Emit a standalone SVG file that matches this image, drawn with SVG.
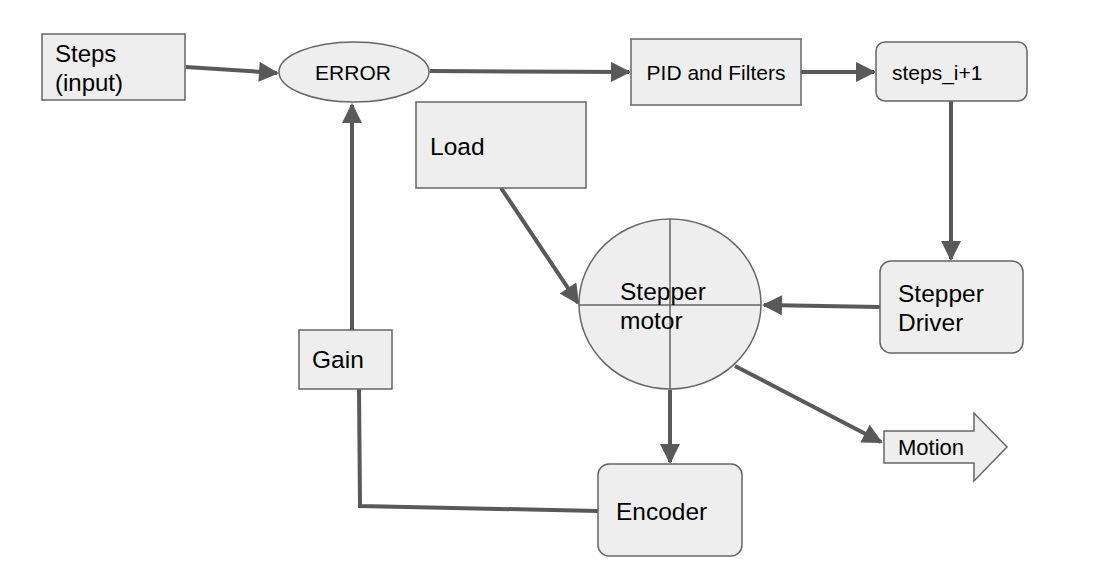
<svg xmlns="http://www.w3.org/2000/svg" width="1102" height="578" viewBox="0 0 1102 578">
<style>
.n{fill:#eeeeee;stroke:#666666;stroke-width:1.5}
.t{font-family:"Liberation Sans",Arial,sans-serif;fill:#000}
.c{fill:none;stroke:#595959;stroke-width:4}
.a{marker-end:url(#ah)}
.thin{stroke:#666666;stroke-width:1.5;fill:none}
</style>
<defs>
<marker id="ah" viewBox="0 0 10 10" refX="9" refY="5" markerWidth="6" markerHeight="5" orient="auto" markerUnits="strokeWidth">
<path d="M0,0 L10,5 L0,10 z" fill="#595959"/>
</marker>
</defs>
<rect width="1102" height="578" fill="#ffffff"/>
<g id="connectors">
<path class="c a" d="M186,67 L277,73"/>
<path class="c a" d="M430,71 L629,72"/>
<path class="c a" d="M801,72 L874,72"/>
<path class="c a" d="M951,101 L951,259"/>
<path class="c a" d="M880,307 L764,305"/>
<path class="c a" d="M501,188 L578,303"/>
<path class="c a" d="M352,330 L352,105"/>
<path class="c" d="M359,389 L360,506 L598,511"/>
<path class="c a" d="M670,390 L670,462"/>
<path class="c a" d="M735,366 L881,442"/>
</g>
<g id="steps">
<rect class="n" x="42" y="34" width="143" height="66"/>
<text class="t" x="55" y="62" font-size="24">Steps</text>
<text class="t" x="55" y="91" font-size="24">(input)</text>
</g>
<g id="error">
<ellipse class="n" cx="354" cy="72" rx="75" ry="30"/>
<text class="t" x="353" y="80" font-size="21" text-anchor="middle">ERROR</text>
</g>
<g id="pid">
<rect class="n" x="631" y="39" width="170" height="66"/>
<text class="t" x="716" y="80" font-size="21" text-anchor="middle">PID and Filters</text>
</g>
<g id="stepsi">
<rect class="n" x="876" y="42" width="151" height="59" rx="9"/>
<text class="t" x="892" y="80" font-size="21">steps_i+1</text>
</g>
<g id="driver">
<rect class="n" x="880" y="261" width="143" height="92" rx="11"/>
<text class="t" x="898" y="302" font-size="24.5">Stepper</text>
<text class="t" x="898" y="331" font-size="24.5">Driver</text>
</g>
<g id="load">
<rect class="n" x="416" y="102" width="170" height="86"/>
<text class="t" x="430" y="155" font-size="24.5">Load</text>
</g>
<g id="motor">
<ellipse class="n" cx="670" cy="304" rx="91" ry="85"/>
<path class="thin" d="M579,305 L761,305 M670,219 L670,389"/>
<text class="t" x="620" y="300" font-size="24.5">Stepper</text>
<text class="t" x="620" y="329" font-size="24.5">motor</text>
</g>
<g id="gain">
<rect class="n" x="299" y="330" width="93" height="59"/>
<text class="t" x="312" y="368" font-size="24.5">Gain</text>
</g>
<g id="encoder">
<rect class="n" x="598" y="464" width="144" height="92" rx="11"/>
<text class="t" x="616" y="520" font-size="24.5">Encoder</text>
</g>
<g id="motion">
<path class="n" d="M884,431 L974,431 L974,413 L1007,447 L974,481 L974,463 L884,463 z"/>
<text class="t" x="898" y="455" font-size="22">Motion</text>
</g>
</svg>
